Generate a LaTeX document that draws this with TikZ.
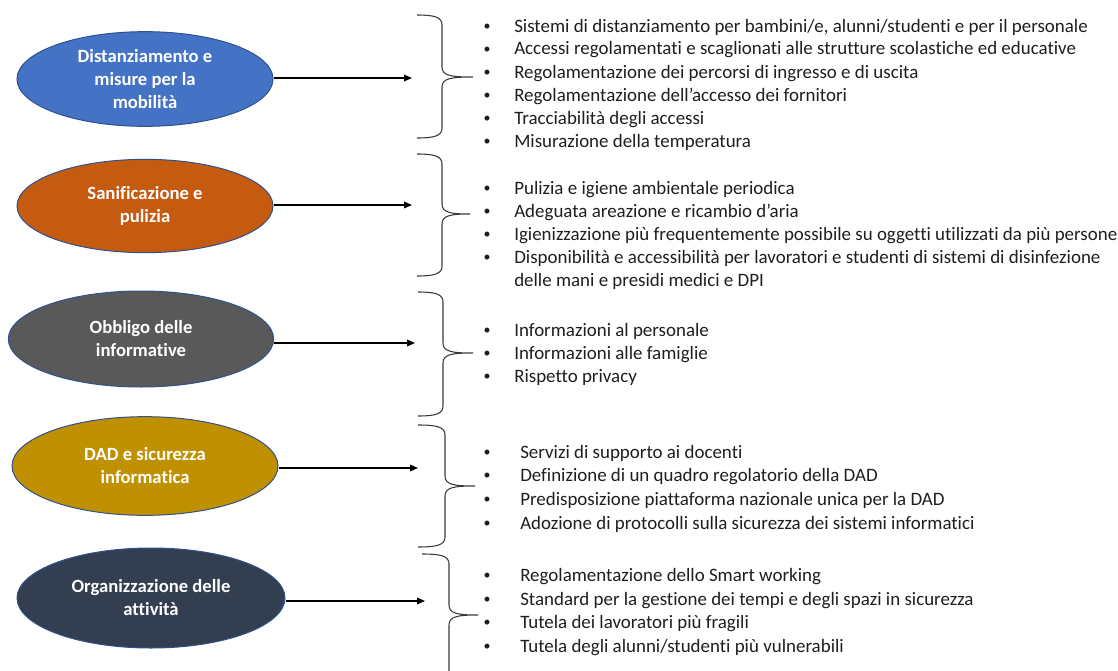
\documentclass[tikz,border=0pt]{standalone}
\usepackage{fontspec}
\setmainfont{Carlito}[Ligatures=NoCommon]
\usetikzlibrary{shapes.geometric,arrows.meta}
\definecolor{cblue}{HTML}{4472C4}
\definecolor{corange}{HTML}{C55A11}
\definecolor{cgray}{HTML}{595959}
\definecolor{cgold}{HTML}{BF9000}
\definecolor{cdark}{HTML}{333F50}
\definecolor{edgeblue}{HTML}{2F528F}
\definecolor{bracegray}{HTML}{3A3A3A}
\definecolor{txt}{HTML}{1E1E1E}
\newcommand\mybrace[6]{% x0, xm, xt, ytop, ytip, ybot
  \draw[brace] (#1,#4) .. controls (#2-8,#4) and (#2,#4+2) .. (#2,#4+10)
    -- (#2,#5-10) .. controls (#2,#5-1) and (#2+10,#5) .. (#3,#5)
    .. controls (#2+10,#5) and (#2,#5+1) .. (#2,#5+10)
    -- (#2,#6-10) .. controls (#2,#6-2) and (#2-8,#6) .. (#1,#6);}
\newcommand\itm[4]{% name, baseline y, text x, text
  \node[bul] (#1b) at (487,#2-1.5) {•};
  \node[item] (#1) at (#3,#2) {#4};}
\begin{document}
\begin{tikzpicture}[x=0.75pt,y=-0.75pt,
  oval/.style={ellipse, draw=edgeblue, line width=0.75pt, text=white,
    font=\bfseries\fontsize{14}{17.25}\selectfont, align=center, inner sep=0pt},
  arr/.style={line width=1pt, draw=black, -{Triangle[length=6pt,width=5pt]}},
  brace/.style={line width=0.8pt, draw=bracegray},
  item/.style={anchor=base west, inner sep=0pt, text=txt,
    font=\fontsize{14.2}{17.25}\selectfont},
  bul/.style={anchor=base, inner sep=0pt, text=txt,
    font=\fontsize{10.5}{12}\selectfont}]
\useasboundingbox (0,0) rectangle (1118,671);
\begin{scope}
\clip (0,0) rectangle (1118,671);
% ellipses
\node[oval, fill=cblue, minimum width=192pt, minimum height=71pt] (e1) at (145,79)
  {Distanziamento e\\misure per la\\mobilità};
\node[oval, fill=corange, minimum width=192pt, minimum height=70pt] (e2) at (145,206)
  {Sanificazione e\\pulizia};
\node[oval, fill=cgray, minimum width=199pt, minimum height=72pt] (e3) at (141,339)
  {Obbligo delle\\informative};
\node[oval, fill=cgold, minimum width=199.5pt, minimum height=74pt] (e4) at (145,466)
  {DAD e sicurezza\\informatica};
\node[oval, fill=cdark, minimum width=201pt, minimum height=75pt] (e5) at (151,598)
  {Organizzazione delle\\attività};
% arrow ends
\coordinate (a1) at (412,78);
\coordinate (a2) at (412,205);
\coordinate (a3) at (415,343);
\coordinate (a4) at (418,468);
\coordinate (a5) at (425,601);
\draw[arr] (e1.east |- a1) -- (a1);
\draw[arr] (e2.east |- a2) -- (a2);
\draw[arr] (e3.east |- a3) -- (a3);
\draw[arr] (e4.east |- a4) -- (a4);
\draw[arr] (e5.east |- a5) -- (a5);
% braces
\mybrace{417}{442}{473}{15}{77}{138}
\mybrace{417}{442}{470}{154}{214}{276}
\mybrace{418}{443}{473}{292}{353}{416}
\mybrace{418}{445}{475}{425}{486}{547}
\mybrace{422}{449}{478}{554}{615}{685}
% group 1
\itm{g1a}{32}{514}{Sistemi di distanziamento per bambini/e, alunni/studenti e per il personale}
\itm{g1b}{55}{514}{Accessi regolamentati e scaglionati alle strutture scolastiche ed educative}
\itm{g1c}{78}{514}{Regolamentazione dei percorsi di ingresso e di uscita}
\itm{g1d}{101}{514}{Regolamentazione dell’accesso dei fornitori}
\itm{g1e}{124}{514}{Tracciabilità degli accessi}
\itm{g1f}{147}{514}{Misurazione della temperatura}
% group 2
\itm{g2a}{194}{514}{Pulizia e igiene ambientale periodica}
\itm{g2b}{217}{514}{Adeguata areazione e ricambio d’aria}
\itm{g2c}{240}{514}{Igienizzazione più frequentemente possibile su oggetti utilizzati da più persone}
\itm{g2d}{263}{514}{Disponibilità e accessibilità per lavoratori e studenti di sistemi di disinfezione}
\node[item] (g2e) at (514,286) {delle mani e presidi medici e DPI};
% group 3
\itm{g3a}{336}{514}{Informazioni al personale}
\itm{g3b}{359}{514}{Informazioni alle famiglie}
\itm{g3c}{382}{514}{Rispetto privacy}
% group 4
\itm{g4a}{458}{520}{Servizi di supporto ai docenti}
\itm{g4b}{481}{520}{Definizione di un quadro regolatorio della DAD}
\itm{g4c}{505}{520}{Predisposizione piattaforma nazionale unica per la DAD}
\itm{g4d}{529}{520}{Adozione di protocolli sulla sicurezza dei sistemi informatici}
% group 5
\itm{g5a}{581}{520}{Regolamentazione dello Smart working}
\itm{g5b}{605}{520}{Standard per la gestione dei tempi e degli spazi in sicurezza}
\itm{g5c}{628}{520}{Tutela dei lavoratori più fragili}
\itm{g5d}{652}{520}{Tutela degli alunni/studenti più vulnerabili}
\end{scope}
\end{tikzpicture}
\end{document}
